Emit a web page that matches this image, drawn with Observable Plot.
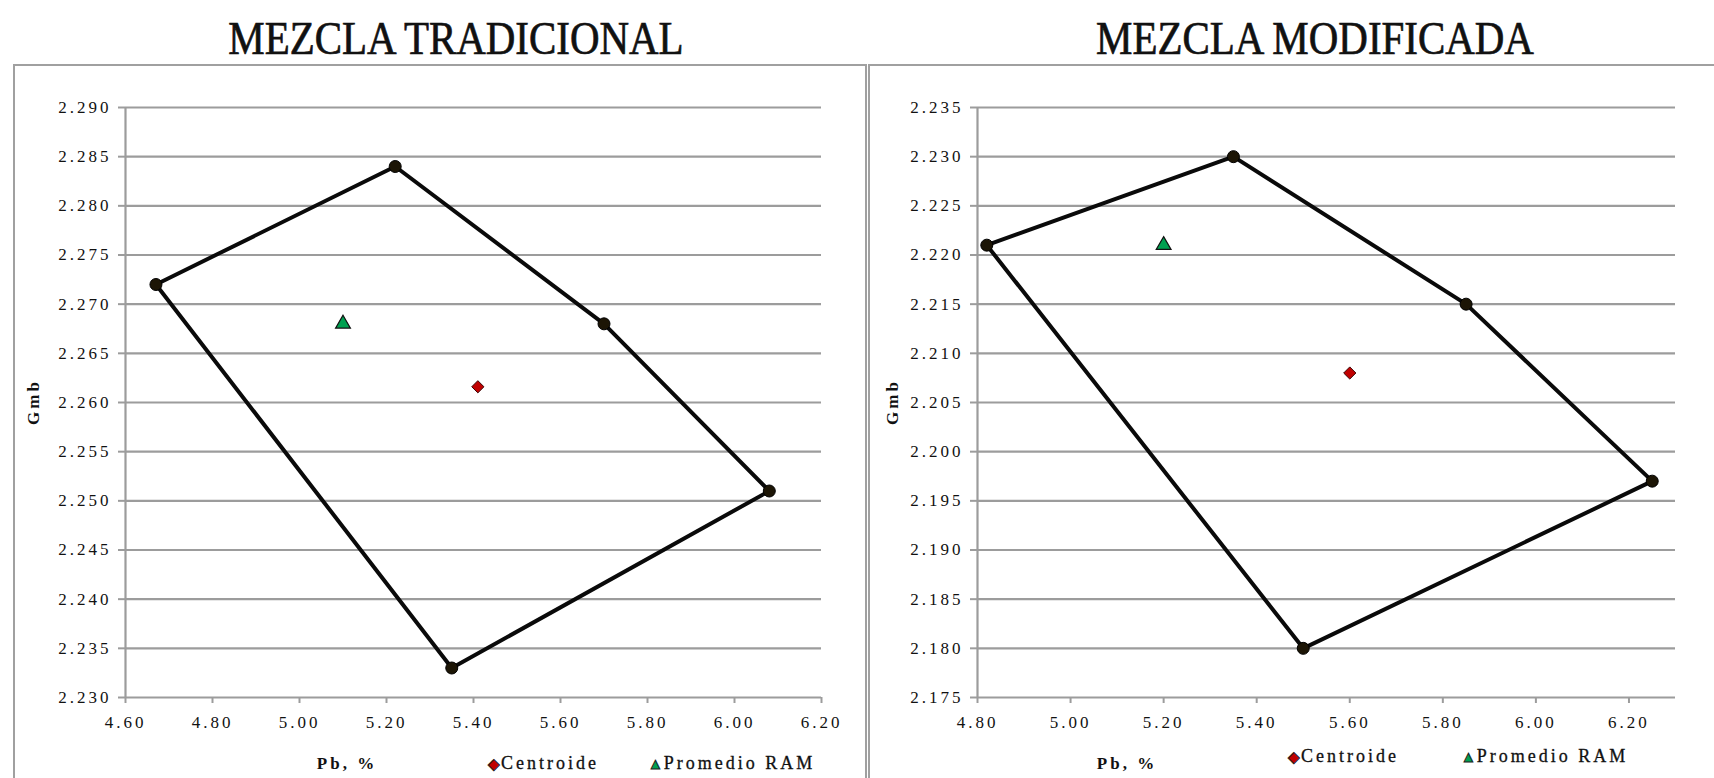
<!DOCTYPE html>
<html>
<head>
<meta charset="utf-8">
<script src="https://cdn.jsdelivr.net/npm/d3@7"></script>
<script src="https://cdn.jsdelivr.net/npm/@observablehq/plot@0.6"></script>
<style>
  body { margin: 0; background: #fff; }
  #page { position: relative; width: 1714px; height: 778px; overflow: hidden; background: #fff; font-family: "Liberation Serif", "Times New Roman", serif; color: #111; }
  .title { font-size: 46px; line-height: 46px; white-space: nowrap; transform: translateX(-50%) scaleX(0.89); color: #111; -webkit-text-stroke: 0.7px #111; }
  .frame { border: 2px solid #a0a0a0; box-sizing: border-box; pointer-events: none; }
  .lbl { font-size: 17px; line-height: 17px; letter-spacing: 3px; font-weight: bold; white-space: nowrap; }
  .leg { font-size: 18px; line-height: 18px; letter-spacing: 3px; white-space: nowrap; -webkit-text-stroke: 0.3px #111; }
  .sym { font-size: 15px; -webkit-text-stroke: 1px #222; letter-spacing: 0; margin-right: 1px; }
</style>
</head>
<body>
<div id="page"></div>
<script>
// ---------- DATA ----------
// MEZCLA TRADICIONAL
const tradXTicks = [4.60, 4.80, 5.00, 5.20, 5.40, 5.60, 5.80, 6.00, 6.20];
const tradYTicks = [2.230, 2.235, 2.240, 2.245, 2.250, 2.255, 2.260, 2.265, 2.270, 2.275, 2.280, 2.285, 2.290];
const tradPb  = [4.67, 5.22, 5.70, 6.08, 5.35];
const tradGmb = [2.272, 2.284, 2.268, 2.251, 2.233];
const tradCentroidPb = [5.41];
const tradCentroidGmb = [2.2616];
const tradRamPb = [5.10];
const tradRamGmb = [2.268];

// MEZCLA MODIFICADA
const modXTicks = [4.80, 5.00, 5.20, 5.40, 5.60, 5.80, 6.00, 6.20];
const modXMax = 6.30;
const modYTicks = [2.175, 2.180, 2.185, 2.190, 2.195, 2.200, 2.205, 2.210, 2.215, 2.220, 2.225, 2.230, 2.235];
const modPb  = [4.82, 5.35, 5.85, 6.25, 5.50];
const modGmb = [2.221, 2.230, 2.215, 2.197, 2.180];
const modCentroidPb = [5.60];
const modCentroidGmb = [2.208];
const modRamPb = [5.20];
const modRamGmb = [2.221];

const titles = ["MEZCLA TRADICIONAL", "MEZCLA MODIFICADA"];
const xLabel = "Pb, %";
const yLabel = "Gmb";
const legendLabels = ["Centroide", "Promedio RAM"];

// ---------- DRAW ----------
const page = document.getElementById("page");
const grid = "#9c9c9c";

function panel(o) {
  const poly = o.pb.map((x, i) => ({pb: x, gmb: o.gmb[i]}));
  const cen = o.cPb.map((x, i) => ({pb: x, gmb: o.cGmb[i]}));
  const ram = o.rPb.map((x, i) => ({pb: x, gmb: o.rGmb[i]}));
  const yDomain = [o.yTicks[0], o.yTicks[o.yTicks.length - 1]];
  return Plot.plot({
    width: o.width, height: 778,
    marginTop: 107, marginBottom: 81, marginLeft: o.marginLeft, marginRight: o.marginRight,
    x: {domain: o.xDomain},
    y: {domain: yDomain},
    style: {background: "none", fontFamily: "'Liberation Serif', 'Times New Roman', serif", fontSize: "17px", letterSpacing: "3px", color: "#111", overflow: "visible"},
    marks: [
      Plot.ruleY(o.yTicks, {stroke: grid, strokeWidth: 2.2}),
      Plot.ruleX([o.xDomain[0]], {stroke: grid, strokeWidth: 2.2}),
      Plot.axisY({ticks: o.yTicks, tickFormat: d3.format(".3f"), tickSize: 7, tickPadding: 7, stroke: grid, strokeWidth: 2, label: null}),
      Plot.axisX({ticks: o.xTicks, tickFormat: d3.format(".2f"), tickSize: 6, tickPadding: 12, stroke: grid, strokeWidth: 2, label: null}),
      Plot.line(poly, {x: "pb", y: "gmb", curve: "linear-closed", stroke: "#0a0a0a", strokeWidth: 4, strokeLinejoin: "round"}),
      Plot.dot(poly, {x: "pb", y: "gmb", r: 6, fill: "#1c1505", stroke: "#000", strokeWidth: 1}),
      Plot.dot(cen, {x: "pb", y: "gmb", symbol: "diamond2", r: 5.5, fill: "#c00000", stroke: "#3a0000", strokeWidth: 1}),
      Plot.dot(ram, {x: "pb", y: "gmb", symbol: "triangle", r: 5.5, fill: "#00a050", stroke: "#111", strokeWidth: 1.2})
    ]
  });
}

function place(el, left, top) {
  el.style.position = "absolute";
  el.style.left = left + "px";
  el.style.top = top + "px";
  page.appendChild(el);
  return el;
}

const left = panel({
  width: 870, marginLeft: 125, marginRight: 49,
  xDomain: [tradXTicks[0], tradXTicks[tradXTicks.length - 1]], xTicks: tradXTicks, yTicks: tradYTicks,
  pb: tradPb, gmb: tradGmb, cPb: tradCentroidPb, cGmb: tradCentroidGmb, rPb: tradRamPb, rGmb: tradRamGmb
});
place(left, 0, 0);

const right = panel({
  width: 845, marginLeft: 108, marginRight: 39,
  xDomain: [modXTicks[0], modXMax], xTicks: modXTicks, yTicks: modYTicks,
  pb: modPb, gmb: modGmb, cPb: modCentroidPb, cGmb: modCentroidGmb, rPb: modRamPb, rGmb: modRamGmb
});
place(right, 869, 0);

// frames
const f1 = document.createElement("div"); f1.className = "frame";
f1.style.width = "854px"; f1.style.height = "760px"; place(f1, 13, 64);
const f2 = document.createElement("div"); f2.className = "frame";
f2.style.width = "900px"; f2.style.height = "760px"; place(f2, 868, 64);

// titles
[[titles[0], 456], [titles[1], 1315]].forEach(([t, cx]) => {
  const d = document.createElement("div"); d.className = "title"; d.textContent = t;
  place(d, cx, 16);
});

// axis labels
[[347, 755], [1127, 755]].forEach(([cx, top]) => {
  const d = document.createElement("div"); d.className = "lbl"; d.textContent = xLabel;
  d.style.transform = "translateX(-50%)";
  place(d, cx, top);
});
[[33, 402], [892, 402]].forEach(([cx, cy]) => {
  const d = document.createElement("div"); d.className = "lbl"; d.textContent = yLabel;
  d.style.transform = "translate(-50%, -50%) rotate(-90deg)";
  place(d, cx, cy);
});

// legends
function legendItem(sym, color, text, x, top) {
  const d = document.createElement("div"); d.className = "leg";
  const s = document.createElement("span"); s.className = "sym"; s.textContent = sym; s.style.color = color;
  d.appendChild(s);
  d.appendChild(document.createTextNode(text));
  place(d, x, top);
}
legendItem("◆", "#c00000", legendLabels[0], 488, 754);
legendItem("▲", "#00a050", legendLabels[1], 648, 754);
legendItem("◆", "#c00000", legendLabels[0], 1288, 747);
legendItem("▲", "#00a050", legendLabels[1], 1461, 747);
</script>
</body>
</html>
